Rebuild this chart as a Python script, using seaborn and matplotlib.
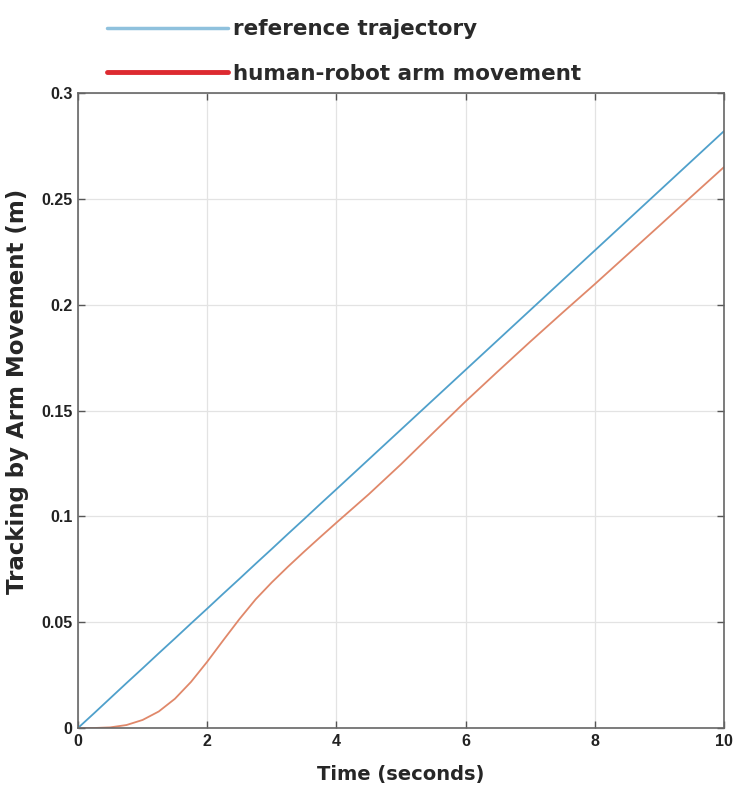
import numpy as np
import pandas as pd
import matplotlib
matplotlib.use("Agg")
import matplotlib.pyplot as plt
from matplotlib.lines import Line2D
import seaborn as sns

# ---- data ----
time_s = [0, 0.25, 0.5, 0.75, 1.0, 1.25, 1.5, 1.75, 2.0, 2.25, 2.5, 2.75, 3.0,
          3.25, 3.5, 3.75, 4.0, 4.5, 5.0, 5.5, 6.0, 6.5, 7.0, 7.5, 8.0, 8.5,
          9.0, 9.5, 10.0]
reference = [0.0, 0.007, 0.0141, 0.0212, 0.0282, 0.0353, 0.0423, 0.0494, 0.0564,
             0.0635, 0.0705, 0.0776, 0.0846, 0.0917, 0.0987, 0.1058, 0.1128,
             0.1269, 0.141, 0.1551, 0.1692, 0.1833, 0.1974, 0.2115, 0.2256,
             0.2397, 0.2538, 0.2679, 0.282]
human_robot = [0.0, 0.0, 0.0003, 0.0014, 0.0038, 0.0078, 0.0138, 0.0218, 0.0313,
               0.0415, 0.0515, 0.0608, 0.0688, 0.0762, 0.0833, 0.0902, 0.0970,
               0.1104, 0.1246, 0.1395, 0.1543, 0.1685, 0.1825, 0.1962, 0.2097,
               0.2235, 0.2373, 0.2512, 0.2650]
series_names = ["reference trajectory", "human-robot arm movement"]
x_ticks = [0, 2, 4, 6, 8, 10]
y_ticks = [0, 0.05, 0.1, 0.15, 0.2, 0.25, 0.3]
y_tick_labels = ["0", "0.05", "0.1", "0.15", "0.2", "0.25", "0.3"]

df = pd.DataFrame({
    "t": time_s + time_s,
    "v": reference + human_robot,
    "series": [series_names[0]] * len(time_s) + [series_names[1]] * len(time_s),
})

sns.set_theme(style="whitegrid")
plt.rcParams["font.family"] = ["DejaVu Sans"]

W, H = 737, 790
fig = plt.figure(figsize=(W / 100, H / 100), dpi=100)
ax = fig.add_axes([78 / W, 1 - 728 / H, (724 - 78) / W, (728 - 93) / H])

line_colors = {series_names[0]: "#4fa0cb", series_names[1]: "#e0886a"}
sns.lineplot(data=df, x="t", y="v", hue="series", palette=line_colors,
             ax=ax, linewidth=1.3, legend=False, estimator=None, sort=True)

ax.set_xlim(0, 10)
ax.set_ylim(0, 0.3)
tick_font = {"family": "Liberation Sans", "weight": "bold", "size": 11.5}
ax.set_xticks(x_ticks)
ax.set_xticklabels([str(x) for x in x_ticks], fontdict=tick_font)
ax.set_yticks(y_ticks)
ax.set_yticklabels(y_tick_labels, fontdict=tick_font)
ax.set_xlabel("Time (seconds)", fontweight="bold", fontsize=14, labelpad=12)
ax.set_ylabel("Tracking by Arm Movement (m)", fontweight="bold", fontsize=16.5,
              va="center")
ax.yaxis.set_label_coords((18 - 78) / (724 - 78), (728 - 391) / (728 - 93))
ax.set_facecolor("white")
ax.grid(True, color="#e3e3e3", linewidth=0.9)
for s in ax.spines.values():
    s.set_visible(True)
    s.set_color("#666666")
    s.set_linewidth(1.2)
ax.tick_params(axis="both", which="both", direction="in", length=5, width=1,
               color="#555555", top=True, right=True, bottom=True, left=True,
               labelcolor="#222222", pad=4)

handles = [Line2D([], [], color="#8fc1dd", linewidth=2.5),
           Line2D([], [], color="#dd2a30", linewidth=3.5)]
fig.legend(handles, series_names, loc="upper left",
           bbox_to_anchor=(88 / W, 1.0), frameon=False,
           prop={"weight": "bold", "size": 15.5}, handlelength=5.6,
           handletextpad=0.23, labelspacing=1.14, labelcolor="#2a2a2a")

fig.savefig("out.png", dpi=100, facecolor="white")
